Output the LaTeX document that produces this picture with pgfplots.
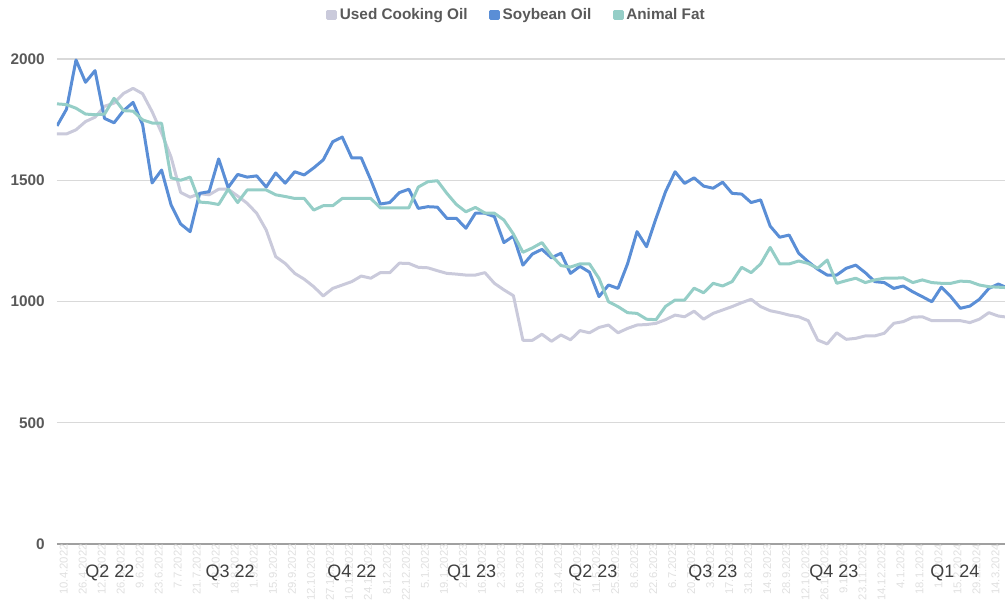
\documentclass[border=0pt]{standalone}
\usepackage{pgfplots}
\pgfplotsset{compat=1.18}
\usepackage{pgfplotstable}
\usepackage{fontspec}
\setmainfont{Liberation Sans}
\definecolor{uco}{HTML}{CACADB}
\definecolor{soy}{HTML}{5A8ED6}
\definecolor{fat}{HTML}{95CEC7}
\definecolor{txt}{HTML}{595959}
\definecolor{qtxt}{HTML}{404040}
\definecolor{gridc}{HTML}{D9D9D9}
\definecolor{basec}{HTML}{A0A0A0}
\definecolor{datec}{HTML}{E0E0E0}

\pgfplotstableread{
i uco soy fat
0 1691 1724 1815
1 1691 1793 1812
2 1708 1996 1797
3 1742 1904 1773
4 1760 1952 1770
5 1805 1755 1773
6 1818 1737 1838
7 1858 1787 1787
8 1879 1821 1785
9 1857 1730 1749
10 1783 1489 1736
11 1695 1542 1735
12 1595 1398 1510
13 1450 1320 1500
14 1430 1288 1513
15 1445 1446 1410
16 1440 1453 1407
17 1463 1588 1400
18 1463 1470 1463
19 1435 1524 1408
20 1405 1513 1460
21 1364 1518 1460
22 1295 1472 1460
23 1185 1530 1440
24 1157 1488 1433
25 1116 1535 1425
26 1092 1522 1425
27 1061 1551 1377
28 1023 1584 1395
29 1054 1659 1395
30 1068 1678 1425
31 1082 1592 1425
32 1105 1592 1425
33 1096 1501 1425
34 1119 1402 1386
35 1119 1408 1386
36 1158 1449 1386
37 1157 1463 1386
38 1141 1384 1472
39 1139 1391 1494
40 1127 1389 1498
41 1116 1343 1446
42 1113 1343 1400
43 1109 1302 1370
44 1109 1364 1388
45 1119 1364 1365
46 1075 1350 1364
47 1048 1243 1336
48 1024 1270 1278
49 840 1150 1203
50 840 1196 1221
51 865 1215 1243
52 836 1180 1190
53 862 1199 1148
54 842 1116 1142
55 880 1145 1155
56 871 1121 1155
57 893 1020 1095
58 903 1068 999
59 871 1054 979
60 889 1155 954
61 903 1288 951
62 905 1226 927
63 910 1343 925
64 925 1453 980
65 944 1535 1006
66 937 1487 1006
67 960 1510 1055
68 927 1476 1036
69 951 1467 1075
70 965 1492 1064
71 979 1446 1082
72 995 1443 1141
73 1009 1408 1119
74 979 1419 1155
75 962 1311 1223
76 954 1265 1155
77 944 1274 1155
78 937 1199 1167
79 921 1164 1157
80 841 1133 1137
81 825 1109 1171
82 871 1109 1075
83 844 1137 1086
84 848 1150 1096
85 858 1119 1078
86 858 1082 1089
87 869 1078 1096
88 910 1054 1096
89 917 1064 1098
90 935 1040 1078
91 937 1020 1089
92 921 999 1078
93 921 1059 1075
94 921 1020 1075
95 921 972 1084
96 913 981 1082
97 927 1009 1068
98 954 1054 1061
99 940 1072 1059
100 935 1055 1057
}\data

\begin{document}
\begin{tikzpicture}
\useasboundingbox (-42.75pt,-47.25pt) rectangle (711pt,408pt);
\begin{axis}[
  at={(0pt,0pt)}, anchor=south west,
  scale only axis, width=711pt, height=363.75pt,
  xmin=0, xmax=99.7, ymin=0, ymax=2000,
  axis x line*=bottom, axis y line*=left,
  x axis line style={draw=basec, line width=1.2pt, -},
  y axis line style={draw=none},
  ytick={0,500,1000,1500,2000},
  ymajorgrids, grid style={draw=gridc, line width=1.1pt},
  major tick length=0pt,
  xtick={0,2,...,98},
  xticklabels={10.4.2022,26.4.2022,12.5.2022,26.5.2022,9.6.2022,23.6.2022,7.7.2022,21.7.2022,4.8.2022,18.8.2022,1.9.2022,15.9.2022,29.9.2022,12.10.2022,27.10.2022,10.11.2022,24.11.2022,8.12.2022,22.12.2022,5.1.2023,19.1.2023,2.2.2023,16.2.2023,2.3.2023,16.3.2023,30.3.2023,13.4.2023,27.4.2023,11.5.2023,25.5.2023,8.6.2023,22.6.2023,6.7.2023,20.7.2023,3.8.2023,17.8.2023,31.8.2023,14.9.2023,28.9.2023,12.10.2023,26.10.2023,9.11.2023,23.11.2023,14.12.2023,4.1.2024,18.1.2024,1.2.2024,15.2.2024,29.2.2024,14.3.2024},
  xticklabel style={rotate=90, anchor=east, font=\fontsize{8.5}{8.5}\selectfont, text=datec, inner sep=0pt, yshift=-5pt},
  yticklabel style={font=\bfseries\fontsize{11.5}{12}\selectfont, text=txt, inner sep=0pt, xshift=-9pt},
  /pgf/number format/assume math mode=true,
  /pgf/number format/1000 sep={},
  clip mode=individual,
  legend style={at={(0.485,1)}, anchor=center, yshift=33pt, draw=none, fill=none,
    font=\bfseries\fontsize{11.5}{12}\selectfont, text=txt, inner sep=0pt,
    /tikz/every even column/.append style={column sep=14pt}},
  legend columns=3,
  legend cell align=left,
  legend image code/.code={\fill[#1] (0pt,-2.5pt) rectangle (6pt,2.5pt);},
]
\addplot[uco, line width=2.25pt, line join=round] table[x=i,y=uco]{\data};
\addplot[soy, line width=2.25pt, line join=round] table[x=i,y=soy]{\data};
\addplot[fat, line width=2.25pt, line join=round] table[x=i,y=fat]{\data};
\legend{Used Cooking Oil, Soybean Oil, Animal Fat}
\node[font=\fontsize{13.5}{14}\selectfont, text=qtxt, yshift=-21.5pt] at (axis cs:5.57,0) {Q2 22};
\node[font=\fontsize{13.5}{14}\selectfont, text=qtxt, yshift=-21.5pt] at (axis cs:18.22,0) {Q3 22};
\node[font=\fontsize{13.5}{14}\selectfont, text=qtxt, yshift=-21.5pt] at (axis cs:31.02,0) {Q4 22};
\node[font=\fontsize{13.5}{14}\selectfont, text=qtxt, yshift=-21.5pt] at (axis cs:43.6,0) {Q1 23};
\node[font=\fontsize{13.5}{14}\selectfont, text=qtxt, yshift=-21.5pt] at (axis cs:56.36,0) {Q2 23};
\node[font=\fontsize{13.5}{14}\selectfont, text=qtxt, yshift=-21.5pt] at (axis cs:68.98,0) {Q3 23};
\node[font=\fontsize{13.5}{14}\selectfont, text=qtxt, yshift=-21.5pt] at (axis cs:81.7,0) {Q4 23};
\node[font=\fontsize{13.5}{14}\selectfont, text=qtxt, yshift=-21.5pt] at (axis cs:94.43,0) {Q1 24};
\end{axis}
\end{tikzpicture}
\end{document}
